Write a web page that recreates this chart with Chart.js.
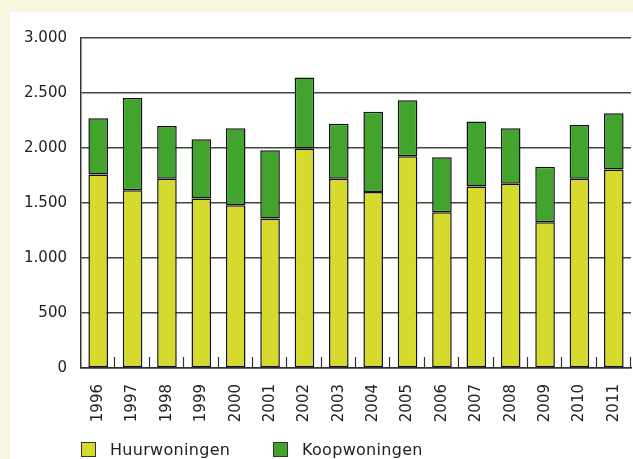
<!DOCTYPE html>
<html>
<head>
<meta charset="utf-8">
<script src="https://cdn.jsdelivr.net/npm/chart.js@4.4.1/dist/chart.umd.min.js"></script>
<style>
  html, body { margin:0; padding:0; }
  body { width:633px; height:459px; background:#f7f6de; position:relative; overflow:hidden; font-family:"DejaVu Sans", sans-serif; }
  #panel { position:absolute; left:10px; top:12px; right:0; bottom:0; background:#ffffff; }
  #wrap { position:absolute; left:0; top:0; width:633px; height:459px; }
  .leg { position:absolute; top:442px; height:15px; display:flex; align-items:center; font-size:16px; color:#222; letter-spacing:0.3px; }
  .sw { width:13px; height:13px; border:1px solid #333; margin-right:14px; }
</style>
</head>
<body>
<div id="panel"></div>
<div id="wrap"><canvas id="c" width="633" height="459"></canvas></div>
<div class="leg" style="left:81px;"><span class="sw" style="background:#d6da2c"></span><span>Huurwoningen</span></div>
<div class="leg" style="left:273px;"><span class="sw" style="background:#42a42c"></span><span>Koopwoningen</span></div>
<script>
const years = ['1996','1997','1998','1999','2000','2001','2002','2003','2004','2005','2006','2007','2008','2009','2010','2011'];
const huurwoningen = [1760,1615,1720,1540,1480,1360,1995,1720,1600,1925,1415,1650,1675,1325,1720,1805];
const koopwoningen = [510,840,480,540,700,620,645,500,730,510,500,590,505,505,490,510];
const yTicks = [0,500,1000,1500,2000,2500,3000];

const innerTicks = {
  id:'innerTicks',
  afterDatasetsDraw(chart){
    const x = chart.scales.x, y = chart.scales.y;
    const ctx = chart.ctx;
    const n = years.length;
    const w = (x.right - x.left)/n;
    ctx.save();
    ctx.strokeStyle = '#333';
    ctx.lineWidth = 1.2;
    for (let i=1;i<=n;i++){
      const px = Math.round(x.left + i*w) - 0.5;
      ctx.beginPath();
      ctx.moveTo(px, y.bottom);
      ctx.lineTo(px, y.bottom - 11);
      ctx.stroke();
    }
    ctx.restore();
  }
};

new Chart(document.getElementById('c'), {
  type:'bar',
  data:{
    labels: years,
    datasets:[
      {label:'Huurwoningen', data:huurwoningen, backgroundColor:'#d6da2c', borderColor:'#111', borderWidth:1.5, borderSkipped:false},
      {label:'Koopwoningen', data:koopwoningen, backgroundColor:'#42a42c', borderColor:'#111', borderWidth:1.5, borderSkipped:false}
    ]
  },
  options:{
    responsive:false,
    animation:false,
    events:[],
    layout:{padding:{left:0,right:2,top:38,bottom:0}},
    plugins:{legend:{display:false}, tooltip:{enabled:false}},
    datasets:{bar:{categoryPercentage:1, barPercentage:0.57}},
    scales:{
      x:{
        stacked:true,
        grid:{display:false, drawTicks:false},
        border:{display:true, color:'#333', width:1.5},
        ticks:{minRotation:90, maxRotation:90, padding:16, color:'#222', font:{family:'DejaVu Sans', size:15}},
        afterFit(s){ s.height = 91; s.paddingLeft = 0; s.paddingRight = 0; }
      },
      y:{
        stacked:true,
        min:0, max:3000,
        afterBuildTicks(s){ s.ticks = yTicks.map(v=>({value:v})); },
        grid:{color:'#444', lineWidth:1.4, drawTicks:false},
        border:{display:true, color:'#333', width:1.5},
        ticks:{padding:14, color:'#222', font:{family:'DejaVu Sans', size:15},
          callback:(v)=> v===0 ? '0' : String(v).replace(/\B(?=(\d{3})+(?!\d))/g,'.')},
        afterFit(s){ s.width = 81; }
      }
    }
  },
  plugins:[innerTicks]
});
</script>
</body>
</html>
